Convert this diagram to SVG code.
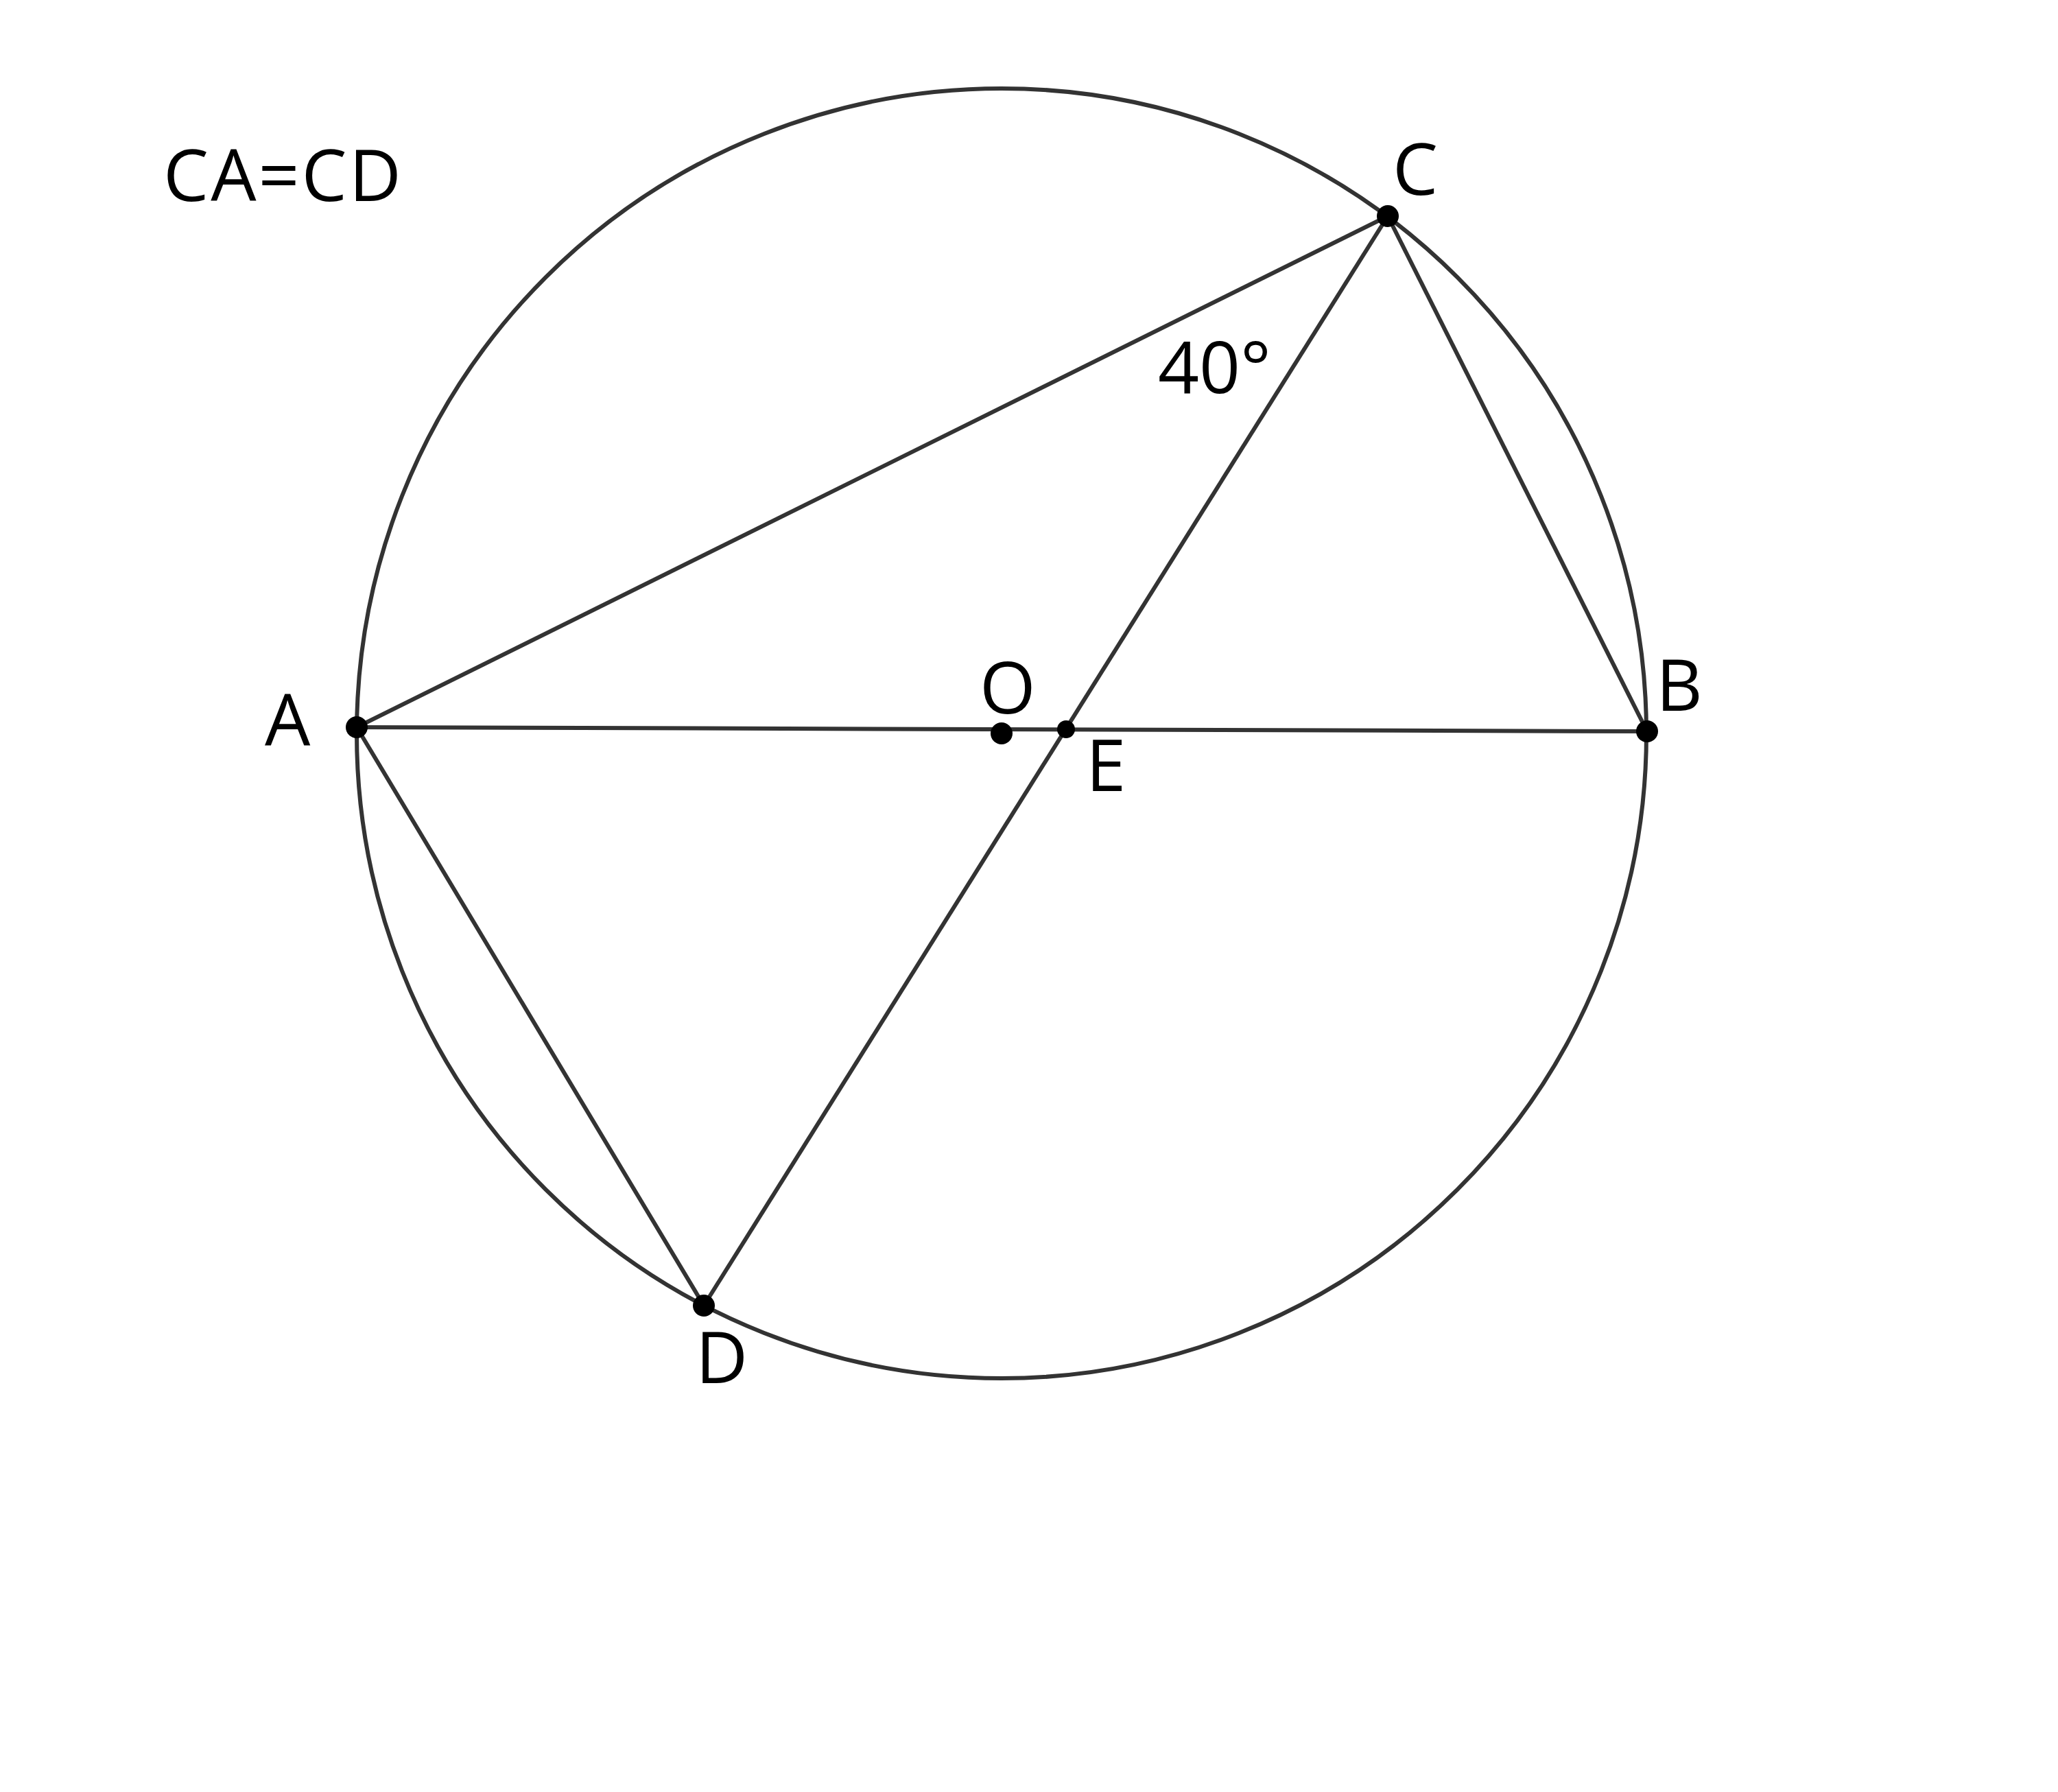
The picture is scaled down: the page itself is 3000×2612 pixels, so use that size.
<svg xmlns="http://www.w3.org/2000/svg" width="3000" height="2612" viewBox="0 0 3000 2612">
<style>
.ln{stroke:#333;stroke-width:6;fill:none}
.pt{fill:#000}
.lb{font-family:"Open Sans","Liberation Sans",sans-serif;font-size:105px;fill:#000}
</style>
<rect width="3000" height="2612" fill="#fff"/>
<g id="connectors">
<circle class="ln" cx="1460" cy="1069" r="940"/>
<line class="ln" x1="520" y1="1060" x2="2023" y2="315"/>
<line class="ln" x1="520" y1="1060" x2="2401" y2="1066"/>
<line class="ln" x1="520" y1="1060" x2="1026" y2="1903"/>
<line class="ln" x1="2023" y1="315" x2="2401" y2="1066"/>
<line class="ln" x1="2023" y1="315" x2="1026" y2="1903"/>
</g>
<g id="A"><circle class="pt" cx="520" cy="1060" r="16"/><text class="lb" x="386" y="1087">A</text></g>
<g id="B"><circle class="pt" cx="2401" cy="1066" r="16"/><text class="lb" x="2414" y="1036">B</text></g>
<g id="C"><circle class="pt" cx="2023" cy="315" r="16"/><text class="lb" x="2030" y="284">C</text></g>
<g id="D"><circle class="pt" cx="1026" cy="1903" r="16"/><text class="lb" x="1014" y="2016">D</text></g>
<g id="O"><circle class="pt" cx="1460" cy="1069" r="16"/><text class="lb" x="1428" y="1040">O</text></g>
<g id="E"><circle class="pt" cx="1554" cy="1063" r="13"/><text class="lb" x="1583" y="1153">E</text></g>
<g id="angle"><text class="lb" x="1688" y="573">40°</text></g>
<g id="note"><text class="lb" x="238" y="293" letter-spacing="3">CA=CD</text></g>
</svg>
